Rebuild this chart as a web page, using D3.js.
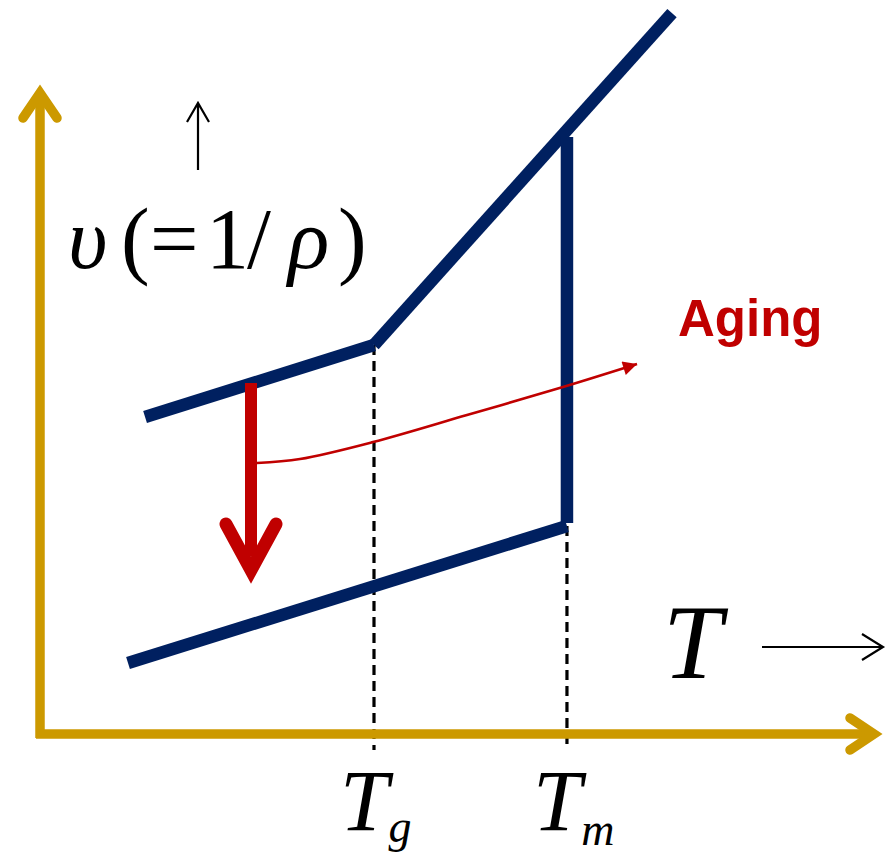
<!DOCTYPE html>
<html><head><meta charset="utf-8">
<script src="https://cdn.jsdelivr.net/npm/d3@7"></script>
<style>html,body{margin:0;padding:0;background:#fff;}</style>
</head><body>
<script>
// ---- data (T in arbitrary units, v = specific volume in arbitrary units) ----
const glassLine   = [[12.46, 48.77], [39.62, 59.85]];
const liquidLine  = [[39.62, 59.85], [74.97, 110.9]];
const meltLine    = [[62.51, 32.46], [62.51, 91.85]];
const crystalLine = [[10.44, 10.92], [62.51, 32.0]];
const transitionT = [39.62, 62.51];           // Tg, Tm
const transitionV = [59.85, 32.0];            // top of dashed guides
const transitionLabels = ["g", "m"];
const agingCurve  = [[25.74, 41.69], [30.84, 42.31], [39.50, 44.92], [50.65, 49.08], [62.04, 53.38], [70.82, 56.92]];
const agingDrop   = [[25.03, 54.0], [25.03, 24.3]];

const W = 890, H = 857;
const x = d3.scaleLinear().domain([0, 100]).range([40, 883]);
const y = d3.scaleLinear().domain([0, 100]).range([734, 84]);

const NAVY = "#002060", GOLD = "#CC9900", RED = "#C00000";

const svg = d3.select("body").append("svg").attr("width", W).attr("height", H);
const line = d3.line().x(d => x(d[0])).y(d => y(d[1]));

// dashed guides
transitionT.forEach((t, i) => {
  svg.append("line").attr("x1", x(t)).attr("x2", x(t))
    .attr("y1", y(transitionV[i])).attr("y2", y(-2.46))
    .attr("stroke", "#000").attr("stroke-width", 3.2).attr("stroke-dasharray", "10,6");
});

// axes
svg.append("line").attr("x1", x(0)).attr("x2", x(0)).attr("y1", y(0) + 4).attr("y2", 95)
  .attr("stroke", GOLD).attr("stroke-width", 9.5);
svg.append("line").attr("x1", x(0) - 4).attr("x2", 874).attr("y1", y(0)).attr("y2", y(0))
  .attr("stroke", GOLD).attr("stroke-width", 9.5);
svg.append("path").attr("d", `M${x(0)-17},118 L${x(0)},93 L${x(0)+17},118`)
  .attr("fill", "none").attr("stroke", GOLD).attr("stroke-width", 9.5)
  .attr("stroke-linecap", "round").attr("stroke-linejoin", "miter");
svg.append("path").attr("d", `M850,${y(0)-16} L874,${y(0)} L850,${y(0)+16}`)
  .attr("fill", "none").attr("stroke", GOLD).attr("stroke-width", 9.5)
  .attr("stroke-linecap", "round").attr("stroke-linejoin", "miter");

// navy curves
[glassLine, liquidLine, meltLine, crystalLine].forEach(seg => {
  svg.append("path").attr("d", line(seg)).attr("fill", "none")
    .attr("stroke", NAVY).attr("stroke-width", 12.5).attr("stroke-linecap", "butt");
});

// aging drop arrow (thick red)
const ax = x(agingDrop[0][0]), aTop = y(agingDrop[0][1]), aTip = y(agingDrop[1][1]);
svg.append("line").attr("x1", ax).attr("x2", ax).attr("y1", aTop).attr("y2", aTip - 20)
  .attr("stroke", RED).attr("stroke-width", 12);
svg.append("path")
  .attr("d", `M${ax-25},${aTip-52} L${ax},${aTip-6} L${ax+25},${aTip-52}`)
  .attr("fill", "none").attr("stroke", RED).attr("stroke-width", 13)
  .attr("stroke-linecap", "round").attr("stroke-linejoin", "miter");
svg.append("path")
  .attr("d", `M${ax-6},${aTip-34} L${ax},${aTip-20} L${ax+6},${aTip-34} Z`)
  .attr("fill", RED);

// aging curve (thin red) with arrowhead
svg.append("defs").append("marker").attr("id", "ah")
  .attr("viewBox", "0 0 10 10").attr("refX", 10).attr("refY", 5)
  .attr("markerWidth", 16).attr("markerHeight", 14).attr("markerUnits", "userSpaceOnUse")
  .attr("orient", "auto")
  .append("path").attr("d", "M0,0 L10,5 L0,10 Z").attr("fill", RED);
svg.append("path").attr("d", line.curve(d3.curveCatmullRom)(agingCurve))
  .attr("fill", "none").attr("stroke", RED).attr("stroke-width", 2.6)
  .attr("marker-end", "url(#ah)");
line.curve(d3.curveLinear);

// texts
svg.append("text").attr("x", 678).attr("y", 336)
  .attr("font-family", "Liberation Sans, Arial, sans-serif").attr("font-weight", "bold")
  .attr("font-size", 51).attr("fill", RED).text("Aging");

const serif = "Liberation Serif, Times New Roman, serif";
const vlab = svg.append("text").attr("y", 268).attr("font-family", serif).attr("font-size", 86).attr("fill", "#000");
[["υ", 68, true], ["(", 121, false], ["=", 150, false], ["1", 206, false], ["/", 247, false], ["ρ", 288, true], [")", 338, false]]
  .forEach(([ch, px, it]) => vlab.append("tspan").attr("x", px).attr("font-style", it ? "italic" : "normal").text(ch));

// small up arrow
svg.append("path").attr("d", "M198,170 L198,103 M187,122 L198,103 L209,122")
  .attr("fill", "none").attr("stroke", "#000").attr("stroke-width", 2.2);

// T and right arrow
svg.append("text").attr("x", 663).attr("y", 678).attr("font-family", serif).attr("font-style", "italic")
  .attr("font-size", 106).attr("fill", "#000").text("T");
svg.append("path").attr("d", "M762,647 L883,647 M862,634 L883,647 L862,660")
  .attr("fill", "none").attr("stroke", "#000").attr("stroke-width", 2.2);

// Tg, Tm labels (one text each, subscript flows after T)
transitionT.forEach((t, i) => {
  const cx = x(t);
  const tx = svg.append("text").attr("x", cx - 34).attr("y", 830).attr("font-family", serif)
    .attr("font-style", "italic").attr("fill", "#000");
  tx.append("tspan").attr("font-size", 87).text("T");
  tx.append("tspan").attr("dy", i === 0 ? 12 : 15).attr("font-size", 46)
    .text(transitionLabels[i]);
});
</script>
</body></html>
